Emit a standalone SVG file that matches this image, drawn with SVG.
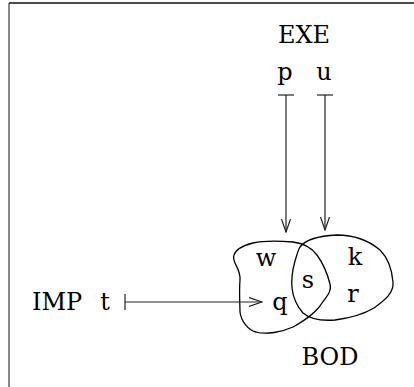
<svg xmlns="http://www.w3.org/2000/svg" width="414" height="387" viewBox="0 0 414 387">
  <style>
    .lbl { font-family: "DejaVu Serif", serif; font-size: 24px; fill: #000; }
    .mid { text-anchor: middle; }
    .edge { fill: none; stroke: #222; stroke-width: 1.2; }
    .blob { fill: none; stroke: #000; stroke-width: 1.3; }
  </style>
  <defs>
    <marker id="head" markerWidth="14" markerHeight="12" refX="13" refY="5" orient="auto" markerUnits="userSpaceOnUse">
      <path d="M0,0.5 L13,5 L0,9.5" fill="none" stroke="#222" stroke-width="1.2"/>
    </marker>
    <marker id="tail" markerWidth="4" markerHeight="18" refX="1" refY="8" orient="auto" markerUnits="userSpaceOnUse">
      <path d="M1,0 L1,16" fill="none" stroke="#222" stroke-width="1.2"/>
    </marker>
  </defs>
  <rect width="414" height="387" fill="#fff"/>
  <!-- frame -->
  <path d="M9,387 L9,3" stroke="#888" stroke-width="2" fill="none"/>
  <path d="M9,3 L414,3" stroke="#111" stroke-width="1.5" fill="none"/>

  <g id="exe">
    <text class="lbl mid" x="304" y="43">EXE</text>
    <text class="lbl mid" x="285" y="80">p</text>
    <text class="lbl mid" x="324" y="80">u</text>
  </g>

  <g id="imp">
    <text class="lbl" x="32" y="310">IMP</text>
    <text class="lbl mid" x="105" y="310">t</text>
  </g>

  <g id="bod">
    <path class="blob" d="M253,243 C245,245 236,249 234,255 C231,262 241,268 240,280 C239,292 240,305 240,312 C241,321 248,330 256,332 C266,335 282,332 293,327 C305,320 316,313 322,303 C328,295 332,290 330,284 C327,272 322,262 317,255 C311,247 302,243 293,242 C280,241 262,241 253,243 Z"/>
    <path class="blob" d="M300,247 C305,240 318,236 337,235 C352,235 368,240 380,250 C388,258 392,270 393,282 C394,293 385,300 374,308 C364,314 350,318 335,320 C322,321 310,319 303,313 C296,305 293,297 292,288 C291,277 293,268 295,261 C297,255 298,250 300,247 Z"/>
    <text class="lbl mid" x="266" y="266">w</text>
    <text class="lbl mid" x="355" y="265">k</text>
    <text class="lbl mid" x="308" y="288">s</text>
    <text class="lbl mid" x="280" y="310">q</text>
    <text class="lbl mid" x="353" y="302">r</text>
    <text class="lbl mid" x="330" y="365">BOD</text>
  </g>

  <g id="connectors">
    <path class="edge" d="M286,95 L286,232" marker-start="url(#tail)" marker-end="url(#head)"/>
    <path class="edge" d="M325,95 L325,230" marker-start="url(#tail)" marker-end="url(#head)"/>
    <path class="edge" d="M125,302 L262,302" marker-start="url(#tail)" marker-end="url(#head)"/>
  </g>
</svg>
